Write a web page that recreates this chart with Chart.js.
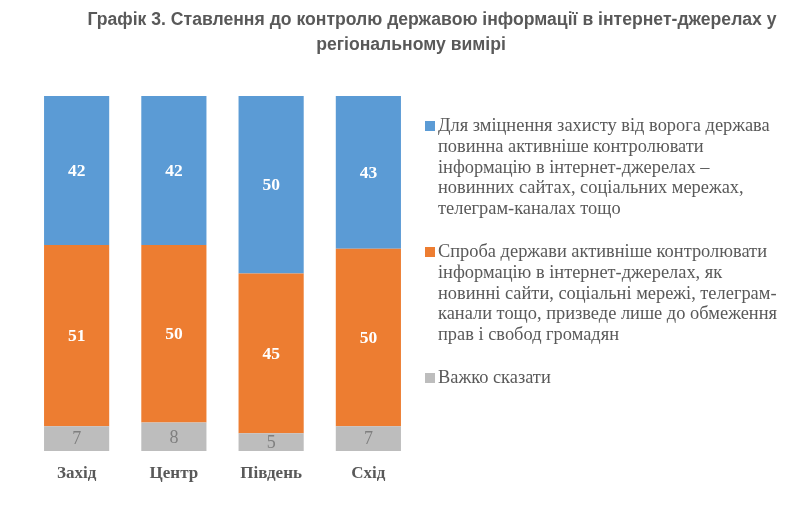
<!DOCTYPE html>
<html>
<head>
<meta charset="utf-8">
<script src="https://cdn.jsdelivr.net/npm/chart.js@4.4.1/dist/chart.umd.min.js"></script>
<style>
  html, body { margin: 0; padding: 0; background: #fff; }
  #wrap { position: relative; width: 803px; height: 508px; overflow: hidden; }
  #c { position: absolute; left: 0; top: 0; }
  .title { position: absolute; font-family: "Liberation Sans", Arial, sans-serif; font-weight: bold; font-size: 17.6px; color: #595959; white-space: nowrap; transform: translateX(-50%); }
  #legend { position: absolute; left: 425px; top: 115px; width: 375px; font-family: "Liberation Serif", "Times New Roman", serif; font-size: 18.4px; line-height: 20.8px; color: #595959; white-space: nowrap; }
  .item { position: relative; padding-left: 13px; margin-bottom: 22px; }
  .sw { position: absolute; left: 0; top: 6px; width: 10px; height: 10px; }
</style>
</head>
<body>
<div id="wrap">
  <canvas id="c" width="803" height="508"></canvas>
  <div class="title" style="left:432px; top:9px;">Графік 3. Ставлення до контролю державою інформації в інтернет-джерелах у</div>
  <div class="title" style="left:411px; top:34px;">регіональному вимірі</div>
  <div id="legend"></div>
</div>
<script>
const categories = ["Захід", "Центр", "Південь", "Схід"];
const seriesNames = [
  "Для зміцнення захисту від ворога держава повинна активніше контролювати інформацію в інтернет-джерелах – новинних сайтах, соціальних мережах, телеграм-каналах тощо",
  "Спроба держави активніше контролювати інформацію в інтернет-джерелах, як новинні сайти, соціальні мережі, телеграм-канали тощо, призведе лише до обмеження прав і свобод громадян",
  "Важко сказати"
];
const legendLines = [
  ["Для зміцнення захисту від ворога держава", "повинна активніше контролювати", "інформацію в інтернет-джерелах –", "новинних сайтах, соціальних мережах,", "телеграм-каналах тощо"],
  ["Спроба держави активніше контролювати", "інформацію в інтернет-джерелах, як", "новинні сайти, соціальні мережі, телеграм-", "канали тощо, призведе лише до обмеження", "прав і свобод громадян"],
  ["Важко сказати"]
];
const supportControl = [42, 42, 50, 43];
const restrictRights = [51, 50, 45, 50];
const hardToSay = [7, 8, 5, 7];

const colors = ["#5B9BD5", "#ED7D31", "#BDBDBD"];

// legend
const lg = document.getElementById('legend');
legendLines.forEach((lines, i) => {
  const d = document.createElement('div');
  d.className = 'item';
  d.innerHTML = '<span class="sw" style="background:' + colors[i] + '"></span>' + lines.join('<br>');
  lg.appendChild(d);
});

const labelPlugin = {
  id: 'segLabels',
  afterDatasetsDraw(chart) {
    const ctx = chart.ctx;
    chart.data.datasets.forEach((ds, di) => {
      const meta = chart.getDatasetMeta(di);
      meta.data.forEach((bar, i) => {
        const v = ds.data[i];
        const y = (bar.y + bar.base) / 2;
        ctx.save();
        ctx.textAlign = 'center';
        ctx.textBaseline = 'middle';
        if (ds.grayLabel) {
          ctx.font = '18px "Liberation Serif", serif';
          ctx.fillStyle = '#7F7F7F';
        } else {
          ctx.font = 'bold 17.5px "Liberation Serif", serif';
          ctx.fillStyle = '#FFFFFF';
        }
        ctx.fillText(String(v), bar.x, y + 1);
        ctx.restore();
      });
    });
  }
};

new Chart(document.getElementById('c'), {
  type: 'bar',
  data: {
    labels: categories,
    datasets: [
      { label: seriesNames[2], data: hardToSay, backgroundColor: colors[2], grayLabel: true },
      { label: seriesNames[1], data: restrictRights, backgroundColor: colors[1] },
      { label: seriesNames[0], data: supportControl, backgroundColor: colors[0] }
    ]
  },
  options: {
    responsive: false,
    animation: false,
    devicePixelRatio: 1,
    layout: { padding: { left: 28, right: 386, top: 96, bottom: 12.6 } },
    datasets: { bar: { categoryPercentage: 1.0, barPercentage: 0.67, borderWidth: 0 } },
    plugins: { legend: { display: false }, tooltip: { enabled: false }, title: { display: false } },
    scales: {
      x: {
        stacked: true,
        grid: { display: false, drawTicks: false },
        border: { display: false },
        ticks: { padding: 12, color: '#595959', font: { family: '"Liberation Serif", serif', size: 17, weight: 'bold' } }
      },
      y: { stacked: true, display: false, min: 0, max: 100 }
    }
  },
  plugins: [labelPlugin]
});
</script>
</body>
</html>
